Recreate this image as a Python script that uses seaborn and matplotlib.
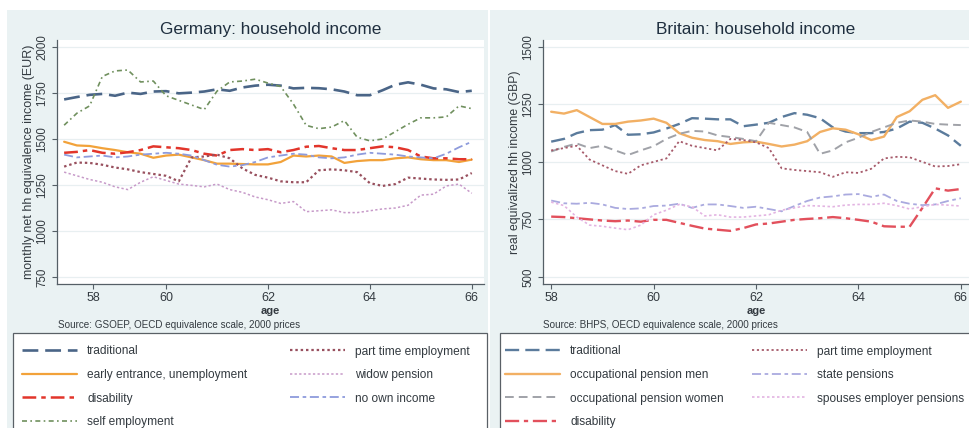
import matplotlib
matplotlib.use("Agg")
import matplotlib.pyplot as plt
from matplotlib.patches import Rectangle
import seaborn as sns

# ---------------- data ----------------
AGE = [58.0, 58.25, 58.5, 58.75, 59.0, 59.25, 59.5, 59.75,
       60.0, 60.25, 60.5, 60.75, 61.0, 61.25, 61.5, 61.75,
       62.0, 62.25, 62.5, 62.75, 63.0, 63.25, 63.5, 63.75,
       64.0, 64.25, 64.5, 64.75, 65.0, 65.25, 65.5, 65.75, 66.0]

# Germany, monthly net household equivalence income (EUR)
de_traditional = [1715, 1728, 1740, 1745, 1735, 1752, 1745, 1758, 1760, 1748, 1752,
                  1758, 1770, 1762, 1780, 1790, 1795, 1790, 1775, 1778, 1776, 1770,
                  1758, 1738, 1738, 1765, 1795, 1808, 1795, 1775, 1770, 1755, 1762]
de_early_unemp = [1485, 1465, 1462, 1450, 1440, 1428, 1420, 1398, 1410, 1415, 1400,
                  1385, 1366, 1366, 1364, 1362, 1362, 1375, 1410, 1405, 1410, 1405,
                  1370, 1380, 1385, 1385, 1395, 1400, 1390, 1385, 1385, 1375, 1388]
de_disability = [1425, 1430, 1440, 1425, 1420, 1428, 1440, 1460, 1455, 1450, 1440,
                 1420, 1410, 1440, 1445, 1440, 1445, 1428, 1440, 1458, 1462, 1450,
                 1440, 1440, 1450, 1460, 1455, 1440, 1405, 1395, 1395, 1390, 1390]
de_self_emp = [1575, 1640, 1680, 1840, 1870, 1875, 1810, 1815, 1735, 1710, 1685,
               1660, 1760, 1810, 1815, 1825, 1804, 1785, 1690, 1574, 1556, 1565,
               1600, 1510, 1490, 1500, 1540, 1580, 1615, 1615, 1620, 1680, 1665]
de_part_time = [1350, 1372, 1370, 1360, 1345, 1335, 1320, 1310, 1300, 1270, 1400,
                1405, 1415, 1395, 1340, 1305, 1290, 1270, 1265, 1265, 1330, 1335,
                1330, 1320, 1260, 1245, 1255, 1290, 1285, 1280, 1278, 1280, 1315]
de_widow = [1320, 1300, 1280, 1265, 1240, 1225, 1265, 1295, 1275, 1255, 1248,
            1240, 1255, 1225, 1210, 1185, 1170, 1150, 1160, 1105, 1110, 1115,
            1100, 1100, 1110, 1120, 1125, 1140, 1195, 1200, 1245, 1255, 1205]
de_no_own = [1415, 1400, 1405, 1410, 1400, 1405, 1415, 1420, 1425, 1420, 1410,
             1385, 1360, 1350, 1358, 1375, 1400, 1410, 1420, 1415, 1400, 1395,
             1400, 1415, 1425, 1420, 1415, 1405, 1400, 1395, 1420, 1455, 1485]

# Britain, real equivalized household income (GBP)
gb_traditional = [1088, 1100, 1125, 1138, 1140, 1160, 1118, 1120, 1128, 1145, 1165,
                  1190, 1188, 1185, 1185, 1155, 1162, 1170, 1195, 1212, 1205, 1190,
                  1150, 1132, 1125, 1125, 1130, 1145, 1175, 1170, 1145, 1115, 1070]
gb_occ_men = [1218, 1210, 1225, 1195, 1165, 1165, 1175, 1180, 1188, 1170, 1125,
              1105, 1095, 1090, 1078, 1085, 1088, 1078, 1067, 1075, 1090, 1130,
              1146, 1140, 1120, 1095, 1110, 1195, 1220, 1270, 1290, 1235, 1262]
gb_occ_women = [1045, 1065, 1080, 1060, 1070, 1050, 1030, 1050, 1068, 1100, 1122,
                1135, 1132, 1115, 1108, 1100, 1090, 1170, 1160, 1150, 1130, 1035,
                1050, 1085, 1105, 1130, 1150, 1170, 1180, 1175, 1165, 1162, 1160]
gb_disability = [762, 760, 755, 750, 745, 742, 745, 740, 748, 748, 735,
                 722, 710, 705, 700, 712, 728, 732, 740, 748, 752, 755,
                 760, 755, 748, 740, 720, 718, 718, 800, 885, 875, 882]
gb_part_time = [1050, 1060, 1070, 1010, 985, 960, 948, 985, 1000, 1015, 1090,
                1070, 1060, 1050, 1100, 1095, 1085, 1060, 972, 965, 960, 955,
                935, 955, 952, 970, 1015, 1022, 1020, 1000, 980, 982, 990]
gb_state = [832, 820, 818, 822, 815, 800, 795, 798, 808, 810, 818,
            800, 815, 815, 808, 800, 805, 795, 785, 808, 830, 845,
            850, 858, 860, 848, 858, 830, 818, 812, 815, 830, 842]
gb_spouses = [825, 810, 760, 725, 720, 712, 705, 725, 770, 790, 815,
              805, 765, 770, 760, 760, 765, 770, 790, 800, 810, 808,
              805, 812, 815, 815, 820, 810, 795, 805, 815, 812, 808]

DE_LABELS = ["traditional", "early entrance, unemployment", "disability",
             "self employment", "part time employment", "widow pension",
             "no own income"]
GB_LABELS = ["traditional", "occupational pension men", "occupational pension women",
             "disability", "part time employment", "state pensions",
             "spouses employer pensions"]

YTICKS_DE = [750, 1000, 1250, 1500, 1750, 2000]
YTICKS_GB = [500, 750, 1000, 1250, 1500]
XTICK_LABELS = ["58", "60", "62", "64", "66"]

# ---------------- styling ----------------
sns.set_style("white")
plt.rcParams["font.family"] = ["Liberation Sans", "DejaVu Sans"]

BG = "#eaf2f3"
TEXT = "#1f2f3f"
LABEL = "#333a40"
AXIS = "#555f66"

W, H = 969, 428
fig = plt.figure(figsize=(W / 100, H / 100), dpi=100)
fig.patch.set_facecolor("white")


def fx(px):
    return px / W


def fy(py):
    return 1 - py / H


# light panels behind each graph
fig.add_artist(Rectangle((fx(7), 0), fx(481), fy(10), transform=fig.transFigure,
                         facecolor=BG, edgecolor="none", zorder=0))
fig.add_artist(Rectangle((fx(490), 0), fx(479), fy(10), transform=fig.transFigure,
                         facecolor=BG, edgecolor="none", zorder=0))

ax_de = fig.add_axes([fx(57), fy(284), fx(484 - 57), (284 - 40) / H])
ax_gb = fig.add_axes([fx(543), fy(284), fx(969 - 543), (284 - 40) / H])

de_series = [
    (de_traditional, "#4a6587", (0, (6, 2.6)), 1.9),
    (de_early_unemp, "#f2a23a", "-", 1.6),
    (de_disability, "#e2352b", (0, (5.5, 2, 1.8, 2)), 1.8),
    (de_self_emp, "#70905e", (0, (3, 2, 1, 2)), 1.2),
    (de_part_time, "#98505e", (0, (1.1, 1.3)), 1.6),
    (de_widow, "#c79ac9", (0, (1.5, 1.5)), 1.1),
    (de_no_own, "#8e9bdc", (0, (5, 2, 2, 2)), 1.3),
]
gb_series = [
    (gb_traditional, "#5b7b9c", (0, (6, 2.6)), 1.7),
    (gb_occ_men, "#f2b064", "-", 1.7),
    (gb_occ_women, "#a0a2a8", (0, (4.5, 2.6)), 1.4),
    (gb_disability, "#e2505c", (0, (6, 2, 1.8, 2)), 1.7),
    (gb_part_time, "#a65a6a", (0, (1.2, 1.5)), 1.3),
    (gb_state, "#aaaadf", (0, (5, 2, 2, 2)), 1.3),
    (gb_spouses, "#e3b4e2", (0, (1.5, 1.5)), 1.2),
]

for ax, series, labels in ((ax_de, de_series, DE_LABELS), (ax_gb, gb_series, GB_LABELS)):
    ax.set_facecolor("white")
    for (vals, col, ls, lw), lab in zip(series, labels):
        sns.lineplot(x=AGE, y=vals, ax=ax, color=col, linestyle=ls, linewidth=lw,
                     label=lab, legend=False)

# axes limits, ticks and grid
ax_de.set_xlim(57.86, 66.24)
ax_de.set_ylim(712, 2038)
ax_de.set_xticks([58.57, 60, 62, 64, 66])
ax_de.set_yticks(YTICKS_DE)

ax_gb.set_xlim(57.84, 66.16)
ax_gb.set_ylim(469, 1530)
ax_gb.set_xticks([58, 60, 62, 64, 66])
ax_gb.set_yticks(YTICKS_GB)

for ax, ticks in ((ax_de, YTICKS_DE), (ax_gb, YTICKS_GB)):
    ax.set_xticklabels(XTICK_LABELS, fontsize=9)
    ax.set_yticklabels([str(t) for t in ticks], rotation=90, va="center", fontsize=8.3)
    for t in ticks:
        ax.axhline(t, color="#e8eff1", linewidth=0.9, zorder=0.5)
    for side in ("top", "right"):
        ax.spines[side].set_visible(False)
    for side in ("left", "bottom"):
        ax.spines[side].set_color(AXIS)
        ax.spines[side].set_linewidth(0.9)
    ax.tick_params(axis="both", which="major", direction="out", length=3.5, width=0.8,
                   color=AXIS, labelcolor=LABEL, pad=2.5, bottom=True, left=True)
    ax.set_xlabel("age", fontsize=8, fontweight="bold", color=LABEL, labelpad=1.5)

ax_de.set_ylabel("monthly net hh equivalence income (EUR)", fontsize=9,
                 color=LABEL, labelpad=1)
ax_gb.set_ylabel("real equivalized hh income (GBP)", fontsize=8.8,
                 color=LABEL, labelpad=1)

ax_de.set_title("Germany: household income", fontsize=12.4, color=TEXT, pad=4)
ax_gb.set_title("Britain: household income", fontsize=12.4, color=TEXT, pad=4)

fig.text(fx(58), fy(325), "Source: GSOEP, OECD equivalence scale, 2000 prices",
         fontsize=7.1, color=LABEL, va="center", ha="left")
fig.text(fx(543), fy(325), "Source: BHPS, OECD equivalence scale, 2000 prices",
         fontsize=7.1, color=LABEL, va="center", ha="left")

# legend boxes below each graph, each holding two columns of keys
LEG_FS = 8.6
for ax, box_left, box_right, col_x in ((ax_de, 13, 487, (22, 290)),
                                       (ax_gb, 500, 1000, (505, 752))):
    fig.add_artist(Rectangle((fx(box_left), -0.05), fx(box_right - box_left),
                             fy(333) + 0.05, transform=fig.transFigure,
                             facecolor="white", edgecolor="#5a6066", linewidth=0.9,
                             zorder=1))
    handles, labs = ax.get_legend_handles_labels()
    for cols, x0 in ((slice(0, 4), col_x[0]), (slice(4, 7), col_x[1])):
        leg = fig.legend(handles[cols], labs[cols], ncol=1, loc="upper left",
                         bbox_to_anchor=(fx(x0), fy(345.5)),
                         bbox_transform=fig.transFigure, fontsize=LEG_FS,
                         frameon=False, handlelength=4.6, handletextpad=0.85,
                         labelspacing=0.97, borderpad=0, borderaxespad=0)
        leg.set_zorder(2)
        for t in leg.get_texts():
            t.set_color(LABEL)

fig.savefig("out.png", dpi=100)
